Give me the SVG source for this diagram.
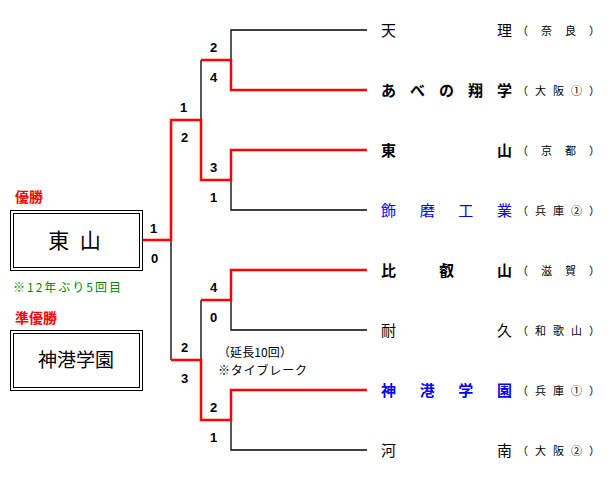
<svg xmlns="http://www.w3.org/2000/svg" width="615" height="481" viewBox="0 0 615 481">
<style>
.k{stroke:#000;stroke-width:1.3;fill:none}
.r{stroke:#f00;stroke-width:2.5;fill:none}
.s{font:bold 13px "Liberation Sans",sans-serif;fill:#000}
.n{font-size:15px;font-family:"Noto Sans CJK JP",sans-serif;fill:#000}
.b{font-weight:bold}
.p{font-size:11px;font-family:"Noto Sans CJK JP",sans-serif;fill:#000}
.u{fill:#00f}
.lab{font:bold 14px "Noto Sans CJK JP",sans-serif;fill:#f00}
.box{fill:#fff;stroke:#000;stroke-width:1}
</style>
<rect width="615" height="481" fill="#fff"/>
<g id="connectors">
<path class="k" d="M367 30H231V60M367 210H231V180M367 330H231V300M367 450H231V420M201 60V120M201 300V360M171 240V360"/>
<path class="r" d="M367 90H231V60H201M367 150H231V180H201V120H171V240H142M367 270H231V300H201M367 390H231V420H201V360H171"/>
</g>
<g id="scores">
<text class="s" x="210" y="52">2</text><text class="s" x="210" y="82">4</text>
<text class="s" x="210" y="172">3</text><text class="s" x="210" y="202">1</text>
<text class="s" x="180" y="112">1</text><text class="s" x="181" y="142">2</text>
<text class="s" x="150" y="233">1</text><text class="s" x="151" y="263">0</text>
<text class="s" x="210" y="292">4</text><text class="s" x="210" y="322">0</text>
<text class="s" x="181" y="352">2</text><text class="s" x="181" y="383">3</text>
<text class="s" x="210" y="412">2</text><text class="s" x="210" y="442">1</text>
</g>
<g id="champion">
<text class="lab" x="15" y="202">優勝</text>
<rect class="box" x="10.5" y="210.5" width="132" height="60"/>
<rect class="box" x="13.5" y="213.5" width="126" height="54"/>
<text x="76" y="248" text-anchor="middle" font-family="Noto Sans CJK JP,sans-serif" font-size="21" letter-spacing="3">東 山</text>
<text x="13" y="292" font-family="Noto Sans CJK JP,sans-serif" font-size="12" fill="#080" textLength="108">※12年ぶり5回目</text>
</g>
<g id="runnerup">
<text class="lab" x="15" y="323">準優勝</text>
<rect class="box" x="10.5" y="330.5" width="132" height="60"/>
<rect class="box" x="13.5" y="333.5" width="126" height="54"/>
<text x="76" y="367" text-anchor="middle" font-family="Noto Sans CJK JP,sans-serif" font-size="19">神港学園</text>
</g>
<g id="note">
<text x="218" y="357" font-family="Noto Sans CJK JP,sans-serif" font-size="12" textLength="74">（延長10回）</text>
<text x="218" y="375" font-family="Noto Sans CJK JP,sans-serif" font-size="12" textLength="89">※タイブレーク</text>
</g>
<g id="teams">
<text class="n" x="381" y="36" textLength="131">天理</text><text class="p" x="517" y="35" textLength="83">（奈良）</text>
<text class="n b" x="381" y="96" textLength="131">あべの翔学</text><text class="p" x="517" y="95" textLength="83">（大阪①）</text>
<text class="n b" x="381" y="156" textLength="131">東山</text><text class="p" x="517" y="155" textLength="83">（京都）</text>
<text class="n u" x="381" y="216" textLength="131">飾磨工業</text><text class="p" x="517" y="215" textLength="83">（兵庫②）</text>
<text class="n b" x="381" y="276" textLength="131">比叡山</text><text class="p" x="517" y="275" textLength="83">（滋賀）</text>
<text class="n" x="381" y="336" textLength="131">耐久</text><text class="p" x="517" y="335" textLength="83">（和歌山）</text>
<text class="n b u" x="381" y="396" textLength="131">神港学園</text><text class="p" x="517" y="395" textLength="83">（兵庫①）</text>
<text class="n" x="381" y="456" textLength="131">河南</text><text class="p" x="517" y="455" textLength="83">（大阪②）</text>
</g>
</svg>
